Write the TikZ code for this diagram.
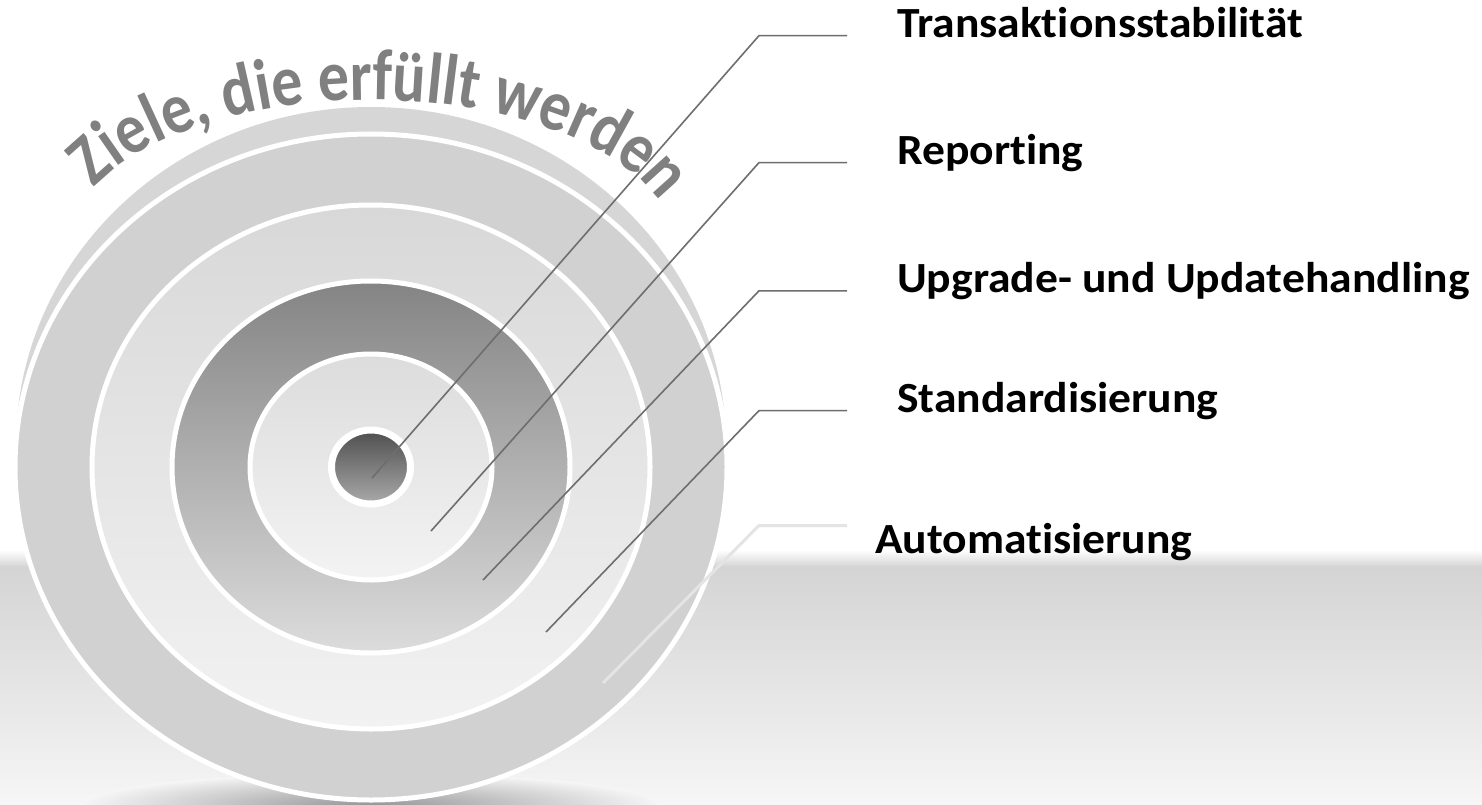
\documentclass[tikz,border=0pt]{standalone}
\usepackage{fontspec}
\setmainfont{Carlito}[Ligatures=NoCommon]
\newfontfamily\goalfont{Carlito}[Ligatures=NoCommon, FakeStretch=1.06]
\newfontfamily\headfont{Carlito}[Ligatures=NoCommon, FakeStretch=0.86]
\definecolor{ringA}{RGB}{209, 209, 209}
\definecolor{backring}{RGB}{214, 214, 214}
\definecolor{ringBtop}{RGB}{216, 216, 216}
\definecolor{ringBbot}{RGB}{242, 242, 242}
\definecolor{ringCtop}{RGB}{132, 132, 132}
\definecolor{ringCbot}{RGB}{220, 220, 220}
\definecolor{ringDtop}{RGB}{220, 220, 220}
\definecolor{ringDbot}{RGB}{243, 243, 243}
\definecolor{coretop}{RGB}{78, 78, 78}
\definecolor{coremid}{RGB}{152, 152, 152}
\definecolor{corebot}{RGB}{170, 170, 170}
\definecolor{floortop}{RGB}{212, 212, 212}
\definecolor{floorbot}{RGB}{246, 246, 246}
\definecolor{shadowgray}{RGB}{150, 150, 150}
\definecolor{headgray}{RGB}{128, 128, 128}
\definecolor{leadgray}{RGB}{110, 110, 110}
\definecolor{leadlight}{RGB}{228, 228, 228}
\usetikzlibrary{positioning, decorations.text}
\tikzset{
    ring/.style={draw=white, line width=5pt},
    goal/.style={anchor=base west, inner sep=0pt, font=\goalfont\bfseries\fontsize{43}{48}\selectfont},
    leader/.style={draw=leadgray, line width=1.6pt},
    faintleader/.style={draw=leadlight, line width=3pt}
}

\begin{document}
\begin{tikzpicture}[x=1pt, y=1pt]
    % Canvas and floor
    \fill[white] (0,0) rectangle (1482,-805);
    \useasboundingbox (0,0) rectangle (1482,-805);
    \shade[top color=white, bottom color=floortop] (0,-550) rectangle (1482,-567);
    \shade[top color=floortop, bottom color=floorbot] (0,-566) rectangle (1482,-805);
    \shade[inner color=shadowgray, outer color=floorbot] (371,-805) ellipse [x radius=290pt, y radius=32pt];

    % Target rings
    \coordinate (c) at (371,-467);
    \fill[backring] (371,-445) ellipse [x radius=355pt, y radius=338pt];
    \draw[ring, fill=ringA] (c) ellipse [x radius=356pt, y radius=333pt];
    \draw[ring, top color=ringBtop, bottom color=ringBbot] (c) ellipse [x radius=279pt, y radius=262pt];
    \draw[ring, top color=ringCtop, bottom color=ringCbot] (c) ellipse [x radius=199pt, y radius=186pt];
    \draw[ring, top color=ringDtop, bottom color=ringDbot] (c) ellipse [x radius=121pt, y radius=113pt];
    \draw[ring, line width=7pt, top color=coretop, middle color=coremid, bottom color=corebot] (c) ellipse [x radius=39.5pt, y radius=37pt];

    % Heading on the arch
    \coordinate (arch) at (371,-250);
    \path[decorate, decoration={text along path, text align=center,
        text={|\color{headgray}\headfont\bfseries\fontsize{72}{72}\selectfont|Ziele, die erfüllt werden}}]
        (arch) ++(168:305pt and 150pt) arc [start angle=168, end angle=5, x radius=305pt, y radius=150pt];

    % Goals
    \node[goal] (stab) at (897,-37.6) {Transaktionsstabilität};
    \node[goal] (rep) at (897,-164.6) {Reporting};
    \node[goal] (upg) at (897,-292.8) {Upgrade- und Updatehandling};
    \node[goal] (std) at (897,-412.6) {Standardisierung};
    \node[goal] (auto) at (875,-553) {Automatisierung};

    % Leader ends inside the target
    \coordinate (pstab) at (372,-478);
    \coordinate (prep) at (431,-531);
    \coordinate (pupg) at (483,-580);
    \coordinate (pstd) at (546,-632);
    \coordinate (pauto) at (603,-683);

    % Leaders
    \draw[leader] ([shift={(-50pt,2pt)}]stab.base west) -- ++(-88,0) -- (pstab);
    \draw[leader] ([shift={(-50pt,2pt)}]rep.base west) -- ++(-88,0) -- (prep);
    \draw[leader] ([shift={(-50pt,2pt)}]upg.base west) -- ++(-88,0) -- (pupg);
    \draw[leader] ([shift={(-50pt,2pt)}]std.base west) -- ++(-88,0) -- (pstd);
    \draw[faintleader] ([shift={(-28pt,27.5pt)}]auto.base west) -- ++(-88,0) -- (pauto);
\end{tikzpicture}
\end{document}
